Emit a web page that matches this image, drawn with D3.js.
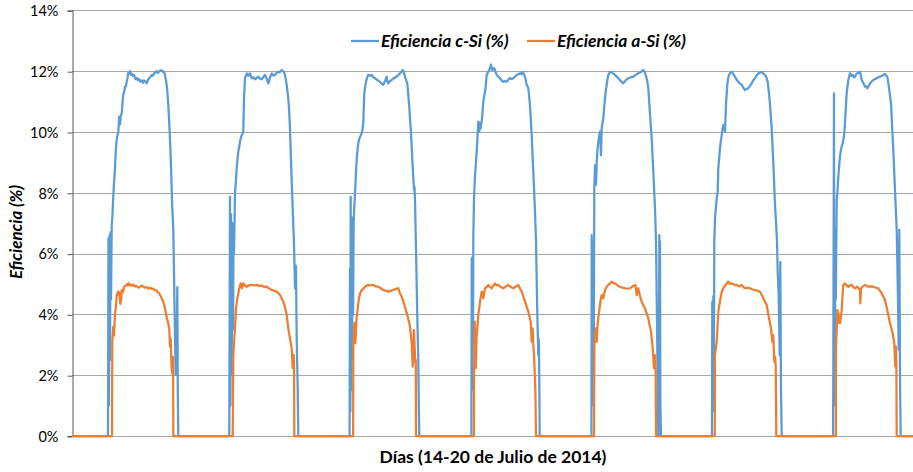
<!DOCTYPE html>
<html>
<head>
<meta charset="utf-8">
<script src="https://cdn.jsdelivr.net/npm/d3@7"></script>
<style>
  body { margin: 0; background: #fff; }
  text { font-family: Lato, "Open Sans", sans-serif; fill: #000; }
</style>
</head>
<body>
<div id="chart"></div>
<script>
// Días del ensayo (14-20 de julio de 2014)
const dias = ['14', '15', '16', '17', '18', '19', '20']
const ticksY = [0, 0.02, 0.04, 0.06, 0.08, 0.10, 0.12, 0.14]
const series = ['Eficiencia c-Si (%)', 'Eficiencia a-Si (%)']

// [hora del día, eficiencia %], un array por día
const cSi = [
  [[7.15,0],[7.25,6.5],[7.35,1.0],[7.45,6.6],[7.55,2.5],[7.65,6.7],[7.75,4.5],[7.89,6.9],[8.05,7.3],[8.2,7.9],[8.38,8.4],[8.54,8.8],[8.7,9.4],[8.88,9.75],[9.05,9.9],[9.2,10.0],[9.38,10.5],[9.54,10.25],[9.7,10.55],[9.87,10.6],[10.05,11.0],[10.19,11.25],[10.35,11.3],[10.53,11.5],[10.7,11.5],[10.87,11.65],[11.05,11.8],[11.19,11.95],[11.35,11.92],[11.52,12.0],[11.7,11.88],[11.86,11.92],[12.1,11.85],[12.32,11.88],[12.6,11.74],[12.85,11.78],[13.1,11.7],[13.3,11.74],[13.6,11.66],[13.85,11.7],[14.1,11.62],[14.3,11.7],[14.6,11.66],[14.84,11.6],[15.1,11.72],[15.3,11.76],[15.6,11.82],[15.84,11.88],[16.05,11.85],[16.29,11.92],[16.55,11.96],[16.83,12.0],[17.05,11.95],[17.29,11.98],[17.55,12.03],[17.82,12.0],[18.0,12.02],[18.18,11.97],[18.35,11.95],[18.48,11.88],[18.6,11.75],[18.72,11.65],[18.83,11.5],[18.93,11.35],[19.13,10.9],[19.33,10.25],[19.51,9.6],[19.67,8.86],[19.9,7.6],[20.12,6.8],[20.3,5.0],[20.46,3.3],[20.6,2.0],[20.76,2.2],[20.92,4.9],[21.02,1.5],[21.12,0]],
  [[7.25,0],[7.39,7.87],[7.47,1.0],[7.6,7.3],[7.72,2.0],[7.85,7.0],[7.99,3.5],[8.1,6.8],[8.19,6.0],[8.38,7.93],[8.55,8.4],[8.72,8.8],[8.88,9.1],[9.04,9.35],[9.2,9.5],[9.38,9.68],[9.55,9.8],[9.72,9.9],[9.88,9.95],[10.03,10.0],[10.17,11.1],[10.37,11.77],[10.55,11.85],[10.71,11.93],[11.05,11.85],[11.37,11.93],[11.7,11.77],[12.0,11.8],[12.36,11.73],[12.7,11.78],[13.01,11.82],[13.35,11.76],[13.69,11.73],[14.0,11.8],[14.34,11.88],[14.7,11.75],[15.0,11.6],[15.35,11.8],[15.68,11.93],[16.0,11.86],[16.34,11.88],[16.65,11.95],[16.99,11.98],[17.3,11.97],[17.66,12.04],[17.9,12.0],[18.12,11.98],[18.4,11.8],[18.66,11.55],[18.97,11.1],[19.15,10.7],[19.31,10.12],[19.48,9.2],[19.65,8.37],[19.97,6.94],[20.11,6.28],[20.31,4.86],[20.5,5.6],[20.64,3.2],[20.84,1.58],[20.96,0]],
  [[7.15,0],[7.23,5.5],[7.3,0.8],[7.37,7.87],[7.45,1.5],[7.55,7.2],[7.65,2.5],[7.75,6.8],[7.85,4.0],[7.95,7.0],[8.03,7.33],[8.23,7.98],[8.4,8.6],[8.56,9.08],[8.72,9.4],[8.88,9.63],[9.05,9.75],[9.22,9.85],[9.4,9.9],[9.56,9.96],[9.72,10.1],[9.87,10.29],[10.07,11.27],[10.25,11.5],[10.41,11.65],[10.65,11.8],[10.87,11.88],[11.2,11.85],[11.54,11.88],[11.85,11.8],[12.2,11.77],[12.7,11.7],[13.19,11.65],[13.5,11.6],[13.85,11.55],[14.2,11.68],[14.52,11.82],[14.68,11.65],[14.84,11.6],[15.2,11.68],[15.52,11.71],[16.0,11.78],[16.51,11.82],[16.85,11.88],[17.17,11.93],[17.45,11.98],[17.7,12.04],[17.95,11.95],[18.16,11.82],[18.4,11.7],[18.62,11.6],[19.01,10.83],[19.35,9.96],[19.69,8.86],[19.95,8.09],[20.05,8.2],[20.15,7.76],[20.35,6.12],[20.6,3.92],[20.8,2.5],[20.9,1.0],[21.0,0]],
  [[7.35,0],[7.41,5.84],[7.5,1.5],[7.61,5.9],[7.68,3.0],[7.73,6.5],[7.87,7.82],[8.07,8.59],[8.27,9.02],[8.52,9.68],[8.72,10.34],[8.92,10.01],[9.05,10.3],[9.2,10.12],[9.46,10.45],[9.72,11.0],[10.05,11.33],[10.2,11.5],[10.39,11.88],[10.71,11.98],[10.95,12.05],[11.25,12.22],[11.5,12.04],[11.7,12.08],[11.9,12.1],[12.15,11.98],[12.38,11.88],[12.7,11.82],[13.03,11.77],[13.35,11.7],[13.69,11.65],[14.0,11.68],[14.37,11.65],[14.7,11.72],[15.02,11.77],[15.35,11.74],[15.68,11.77],[16.0,11.82],[16.35,11.88],[16.7,11.9],[17.01,11.93],[17.3,11.9],[17.54,11.98],[17.8,11.9],[18.0,11.82],[18.34,11.55],[18.5,11.5],[18.66,11.44],[18.99,10.89],[19.33,9.9],[19.65,8.69],[19.99,7.38],[20.19,6.39],[20.45,3.98],[20.64,2.66],[20.72,3.2],[20.78,3.0],[20.92,0]],
  [[7.2,0],[7.25,6.61],[7.33,1.0],[7.41,6.4],[7.5,2.0],[7.57,6.0],[7.67,3.0],[7.77,8.15],[7.91,8.91],[8.11,8.26],[8.25,9.02],[8.4,9.4],[8.56,9.68],[8.72,9.85],[8.9,10.01],[9.1,9.24],[9.24,10.12],[9.4,10.3],[9.56,10.45],[9.72,10.8],[9.89,11.1],[10.05,11.35],[10.23,11.55],[10.4,11.75],[10.55,11.88],[10.8,11.95],[11.09,11.98],[11.5,11.93],[11.88,11.88],[12.2,11.82],[12.54,11.77],[13.0,11.68],[13.53,11.6],[14.0,11.7],[14.52,11.77],[15.0,11.8],[15.52,11.82],[16.0,11.88],[16.51,11.93],[17.0,11.97],[17.5,12.04],[17.75,11.98],[17.98,11.88],[18.25,11.7],[18.5,11.44],[18.84,10.56],[19.17,9.79],[19.49,8.69],[19.83,7.49],[20.03,6.39],[20.23,3.76],[20.37,1.6],[20.48,0],[20.6,0],[20.68,6.61],[20.75,2.0],[20.82,6.4],[20.9,1.0],[21.02,0]],
  [[7.15,0],[7.21,4.42],[7.31,0.8],[7.41,4.6],[7.5,1.5],[7.61,6.39],[7.75,7.16],[7.92,7.5],[8.09,7.82],[8.29,8.04],[8.4,8.8],[8.56,9.1],[8.74,9.46],[8.9,9.7],[9.08,9.9],[9.25,10.1],[9.4,10.23],[9.6,10.15],[9.74,10.01],[9.93,10.89],[10.19,11.55],[10.35,11.75],[10.53,11.88],[10.8,11.95],[11.07,11.98],[11.4,11.9],[11.72,11.82],[12.05,11.72],[12.38,11.65],[12.7,11.6],[13.05,11.55],[13.4,11.45],[13.71,11.38],[14.05,11.42],[14.37,11.44],[14.7,11.52],[15.04,11.6],[15.35,11.7],[15.7,11.77],[16.0,11.85],[16.35,11.93],[16.7,11.95],[17.03,11.98],[17.35,11.92],[17.68,11.88],[17.95,11.8],[18.22,11.65],[18.45,11.3],[18.68,10.89],[19.01,10.12],[19.33,9.02],[19.67,7.6],[19.87,7.05],[20.07,6.39],[20.2,5.4],[20.4,4.64],[20.6,2.66],[20.72,5.73],[20.86,1.57],[21.0,0]],
  [[7.2,0],[7.25,2.0],[7.32,6.5],[7.39,11.27],[7.45,1.0],[7.52,6.78],[7.59,3.0],[7.66,6.5],[7.75,4.5],[7.93,7.76],[8.1,8.1],[8.25,8.53],[8.42,8.9],[8.58,9.19],[8.75,9.4],[8.92,9.52],[9.08,9.6],[9.24,9.74],[9.44,9.96],[9.64,10.5],[9.91,11.27],[10.23,11.71],[10.57,11.93],[10.85,11.85],[11.11,11.88],[11.35,11.8],[11.56,11.82],[11.8,11.9],[12.02,11.93],[12.3,11.95],[12.56,11.98],[12.9,11.71],[13.25,11.6],[13.55,11.49],[13.8,11.5],[14.01,11.44],[14.3,11.52],[14.54,11.6],[14.9,11.66],[15.2,11.71],[15.55,11.74],[15.88,11.77],[16.2,11.8],[16.53,11.82],[17.0,11.86],[17.52,11.91],[17.98,11.82],[18.2,11.6],[18.38,11.38],[18.72,10.94],[19.17,9.41],[19.51,8.09],[19.85,6.78],[20.05,5.02],[20.25,2.83],[20.37,6.78],[20.51,1.73],[20.64,0]]
]

const aSi = [
  [[7.95,0],[8.0,3.1],[8.2,3.6],[8.34,3.3],[8.54,4.0],[8.74,4.3],[8.88,4.6],[9.05,4.7],[9.2,4.75],[9.4,4.7],[9.6,4.35],[9.78,4.5],[9.87,4.8],[10.05,4.72],[10.19,4.78],[10.35,4.9],[10.53,4.92],[10.7,4.96],[10.87,4.98],[11.05,4.95],[11.19,5.03],[11.45,4.96],[11.72,4.98],[11.95,4.94],[12.18,4.98],[12.5,4.92],[12.85,4.93],[13.2,4.88],[13.51,4.9],[13.8,4.95],[14.1,4.92],[14.45,4.88],[14.84,4.9],[15.2,4.85],[15.5,4.88],[15.8,4.84],[16.09,4.85],[16.45,4.8],[16.83,4.78],[17.05,4.72],[17.29,4.7],[17.55,4.62],[17.82,4.53],[18.14,4.4],[18.48,4.2],[18.82,3.9],[19.13,3.7],[19.33,3.5],[19.47,2.95],[19.61,3.2],[19.77,2.3],[19.93,2.05],[20.03,2.6],[20.1,2.0],[20.13,0]],
  [[7.93,0],[8.05,2.66],[8.2,3.1],[8.38,3.55],[8.58,4.2],[8.84,4.53],[9.05,4.7],[9.24,4.86],[9.52,5.02],[9.78,4.86],[10.03,5.02],[10.35,4.95],[10.71,4.91],[11.2,4.96],[11.7,4.97],[12.2,4.95],[12.7,4.97],[13.2,4.94],[13.69,4.95],[14.2,4.9],[14.68,4.91],[15.2,4.85],[15.68,4.8],[16.2,4.78],[16.67,4.75],[17.33,4.64],[17.98,4.42],[18.3,4.25],[18.66,3.98],[18.97,3.54],[19.31,3.21],[19.65,2.88],[19.85,2.23],[19.95,2.5],[20.05,2.66],[20.12,2.3],[20.17,0]],
  [[7.85,0],[7.89,3.05],[8.09,3.71],[8.29,3.05],[8.45,3.6],[8.56,3.92],[8.72,4.1],[8.88,4.36],[9.05,4.55],[9.22,4.69],[9.4,4.75],[9.56,4.8],[9.9,4.85],[10.21,4.91],[10.55,4.95],[10.87,4.97],[11.35,4.95],[11.86,4.97],[12.35,4.92],[12.86,4.91],[13.35,4.86],[13.85,4.8],[14.35,4.78],[14.84,4.75],[15.35,4.78],[15.84,4.8],[16.35,4.84],[16.83,4.86],[17.15,4.7],[17.5,4.58],[18.16,4.25],[18.7,3.92],[19.15,3.6],[19.49,3.05],[19.69,2.28],[19.82,2.9],[19.95,3.49],[20.1,2.8],[20.21,2.4],[20.3,2.5],[20.35,0]],
  [[7.85,0],[7.87,2.0],[8.01,3.76],[8.21,2.23],[8.4,3.32],[8.56,3.6],[8.72,3.98],[8.9,4.2],[9.06,4.42],[9.4,4.75],[9.72,4.53],[10.05,4.86],[10.4,4.9],[10.71,4.97],[11.05,4.9],[11.38,4.86],[11.7,4.95],[12.04,5.02],[12.35,4.95],[12.7,4.97],[13.2,4.9],[13.69,4.86],[14.2,4.92],[14.68,4.97],[15.2,4.9],[15.68,4.86],[16.2,4.92],[16.67,4.97],[17.0,4.85],[17.35,4.75],[18.0,4.42],[18.35,4.25],[18.66,4.09],[19.13,3.76],[19.33,3.1],[19.53,3.54],[19.65,3.0],[19.79,2.66],[19.9,2.2],[20.05,1.57],[20.19,0]],
  [[7.72,0],[7.77,2.88],[7.9,3.3],[8.05,3.54],[8.25,3.1],[8.4,3.6],[8.56,3.87],[8.72,4.1],[8.9,4.31],[9.05,4.5],[9.24,4.64],[9.56,4.53],[9.89,4.8],[10.2,4.9],[10.55,4.97],[10.9,5.02],[11.23,5.08],[11.55,5.02],[11.88,5.02],[12.4,4.95],[12.87,4.91],[13.35,4.88],[13.87,4.86],[14.35,4.85],[14.86,4.86],[15.35,4.92],[15.85,4.97],[16.0,4.9],[16.19,4.64],[16.35,4.8],[16.51,4.86],[16.85,4.6],[17.19,4.42],[17.5,4.3],[17.84,4.2],[18.5,3.87],[19.03,3.43],[19.37,2.88],[19.63,2.23],[19.83,2.66],[19.95,2.2],[20.03,0]],
  [[7.7,0],[7.75,2.66],[7.92,2.9],[8.09,3.1],[8.25,3.6],[8.4,4.09],[8.56,4.25],[8.74,4.42],[9.08,4.75],[9.4,4.86],[9.87,4.97],[10.39,5.08],[10.7,5.0],[11.07,5.02],[11.55,4.98],[12.06,4.97],[12.55,4.92],[13.05,4.97],[13.4,4.9],[13.71,4.86],[14.2,4.88],[14.7,4.86],[15.2,4.82],[15.7,4.8],[16.2,4.78],[16.69,4.75],[17.0,4.65],[17.35,4.53],[18.02,4.31],[18.48,3.87],[18.88,3.54],[19.13,3.1],[19.33,3.32],[19.53,2.44],[19.7,2.6],[19.81,2.33],[19.93,0]],
  [[7.75,0],[7.79,2.94],[7.92,3.5],[8.05,4.14],[8.32,3.98],[8.45,3.71],[8.58,3.71],[8.75,3.9],[8.92,4.14],[9.08,4.6],[9.24,4.97],[9.58,5.02],[9.9,4.95],[10.23,4.91],[10.57,4.95],[10.91,4.97],[11.25,4.9],[11.56,4.86],[12.02,4.91],[12.3,4.85],[12.56,4.8],[12.62,4.36],[12.76,4.86],[13.15,4.92],[13.55,4.97],[13.9,4.93],[14.21,4.91],[14.7,4.92],[15.2,4.91],[15.7,4.88],[16.19,4.86],[16.87,4.69],[17.52,4.47],[17.98,4.14],[18.52,3.71],[19.05,3.38],[19.37,3.05],[19.57,2.28],[19.71,2.94],[19.78,2.3],[19.85,0]]
]

const colors = ['#5B9BD5', '#ED7D31']

const W = 913, H = 472
const margin = {top: 10, left: 72, bottom: 36}
const horaPx = 120.8 / 24   // cada día ocupa ~120.8 px

const svg = d3.select('#chart').append('svg')
  .attr('width', W).attr('height', H)

const x = d3.scaleLinear()
  .domain([0, dias.length * 24])
  .range([margin.left, margin.left + dias.length * 24 * horaPx])
const y = d3.scaleLinear()
  .domain([0, 0.14])
  .range([H - margin.bottom, margin.top + 0.4])

// pasar de [hora, %] por día a una serie continua en horas desde el 14 a las 0h
function toSerie(porDia) {
  let pts = [[0, 0]]
  porDia.forEach((d, k) => {
    d.forEach(p => pts.push([k * 24 + p[0], p[1] / 100]))
  })
  pts.push([dias.length * 24, 0])
  return pts
}

// grid
svg.append('g')
  .selectAll('line')
  .data(ticksY)
  .enter().append('line')
    .attr('x1', margin.left).attr('x2', W)
    .attr('y1', d => Math.round(y(d)) + 0.5)
    .attr('y2', d => Math.round(y(d)) + 0.5)
    .attr('stroke', '#a6a6a6')
    .attr('stroke-width', 1)

// Y axis
const yAxis = svg.append('g')
  .attr('transform', 'translate(' + (margin.left + 0.5) + ',0)')
  .call(d3.axisLeft(y).tickValues(ticksY).tickFormat(d3.format('.0%')).tickSize(5).tickPadding(9))
yAxis.select('.domain').attr('stroke', '#595959')
yAxis.selectAll('.tick line').attr('stroke', '#595959')
yAxis.selectAll('.tick line').attr('transform', 'translate(0,0.5)')
yAxis.selectAll('.tick text')
  .style('font-size', '14.5px')
  .attr('fill', '#000')
  .attr('dy', '0.36em')

// lines
const line = d3.line()
  .x(d => x(d[0]))
  .y(d => y(d[1]))

;[cSi, aSi].forEach((s, i) => {
  svg.append('path')
    .datum(toSerie(s))
    .attr('fill', 'none')
    .attr('stroke', colors[i])
    .attr('stroke-width', 2.25)
    .attr('stroke-linejoin', 'round')
    .attr('d', line)
})

// legend
const legendPos = [351, 527]
series.forEach((name, i) => {
  const g = svg.append('g').attr('transform', 'translate(' + legendPos[i] + ',41)')
  g.append('line')
    .attr('x1', 0).attr('x2', 28)
    .attr('stroke', colors[i]).attr('stroke-width', 2.25)
  g.append('text')
    .attr('x', 30).attr('y', 6)
    .style('font-size', '17.5px')
    .style('font-weight', 'bold')
    .style('font-style', 'italic')
    .text(name)
})

// axis titles
svg.append('text')
  .attr('x', 493).attr('y', 463)
  .attr('text-anchor', 'middle')
  .style('font-size', '17.5px')
  .style('font-weight', 'bold')
  .text('Días  (14-20 de Julio de 2014)')

svg.append('text')
  .attr('transform', 'translate(22,232) rotate(-90)')
  .attr('text-anchor', 'middle')
  .style('font-size', '17px')
  .style('font-weight', 'bold')
  .style('font-style', 'italic')
  .text('Eficiencia (%)')
</script>
</body>
</html>
